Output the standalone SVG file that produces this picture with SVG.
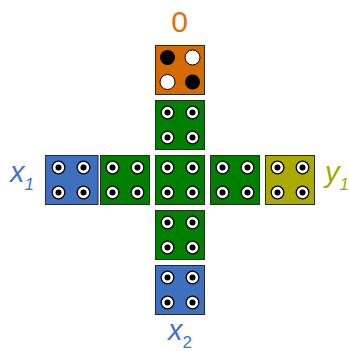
<svg xmlns="http://www.w3.org/2000/svg" width="349" height="351" viewBox="0 0 349 351">
  <defs>
    <style>
      .box { stroke: #2a2a2a; stroke-width: 1; }
      .orange { fill: #d46a00; }
      .green { fill: #008000; }
      .blue { fill: #3f6fbf; }
      .olive { fill: #aaaa00; }
      .ring { fill: #ffffff; stroke: #000000; stroke-width: 1.3; }
      .hole { fill: #000000; }
      .lbl { font-family: "Liberation Sans", Arial, sans-serif; font-style: italic; }
    </style>
    <!-- four-hole face: white rings with black centres -->
    <g id="holes">
      <circle class="ring" cx="12.5" cy="12.5" r="6.3"/>
      <circle class="hole" cx="12.5" cy="12.5" r="3"/>
      <circle class="ring" cx="37.5" cy="12.5" r="6.3"/>
      <circle class="hole" cx="37.5" cy="12.5" r="3"/>
      <circle class="ring" cx="12.5" cy="37.5" r="6.3"/>
      <circle class="hole" cx="12.5" cy="37.5" r="3"/>
      <circle class="ring" cx="37.5" cy="37.5" r="6.3"/>
      <circle class="hole" cx="37.5" cy="37.5" r="3"/>
    </g>
  </defs>

  <g id="top-orange">
    <rect class="box orange" x="155.5" y="45.5" width="49" height="49"/>
    <circle cx="167.5" cy="57.5" r="7.5" fill="#000"/>
    <circle cx="192.5" cy="57.5" r="7.5" fill="#fff" stroke="#000" stroke-width="1"/>
    <circle cx="167.5" cy="82" r="7.5" fill="#fff" stroke="#000" stroke-width="1"/>
    <circle cx="192.5" cy="82" r="7.5" fill="#000"/>
  </g>

  <g id="green-up">
    <rect class="box green" x="155.5" y="100.5" width="49" height="49"/>
    <use href="#holes" x="155" y="100"/>
  </g>

  <g id="blue-left">
    <rect class="box blue" x="45.5" y="155.5" width="52.5" height="49"/>
    <use href="#holes" x="46" y="155"/>
  </g>

  <g id="green-left">
    <rect class="box green" x="100.5" y="155.5" width="49" height="49"/>
    <use href="#holes" x="100" y="155"/>
  </g>

  <g id="green-center">
    <rect class="box green" x="155.5" y="155.5" width="49" height="49"/>
    <use href="#holes" x="155" y="155"/>
  </g>

  <g id="green-right">
    <rect class="box green" x="210.5" y="155.5" width="49" height="49"/>
    <use href="#holes" x="210" y="155"/>
  </g>

  <g id="olive-right">
    <rect class="box olive" x="265.5" y="155.5" width="49" height="49"/>
    <use href="#holes" x="265" y="155"/>
  </g>

  <g id="green-down">
    <rect class="box green" x="155.5" y="210.5" width="49" height="49"/>
    <use href="#holes" x="155" y="210"/>
  </g>

  <g id="blue-down">
    <rect class="box blue" x="155.5" y="265.5" width="49" height="49"/>
    <use href="#holes" x="155" y="265"/>
  </g>

  <g id="labels">
    <text x="179.5" y="32" font-family="Liberation Sans, Arial, sans-serif" font-size="30" fill="#d9730d" text-anchor="middle">0</text>
    <text class="lbl" x="10" y="182" font-size="29" fill="#4472c4">x<tspan font-size="17" dy="8">1</tspan></text>
    <text class="lbl" x="325" y="182" font-size="29" fill="#a8a800">y<tspan font-size="17" dy="8">1</tspan></text>
    <text class="lbl" x="168" y="340" font-size="29" fill="#4472c4">x<tspan font-size="17" dy="8" font-style="normal">2</tspan></text>
  </g>
</svg>
